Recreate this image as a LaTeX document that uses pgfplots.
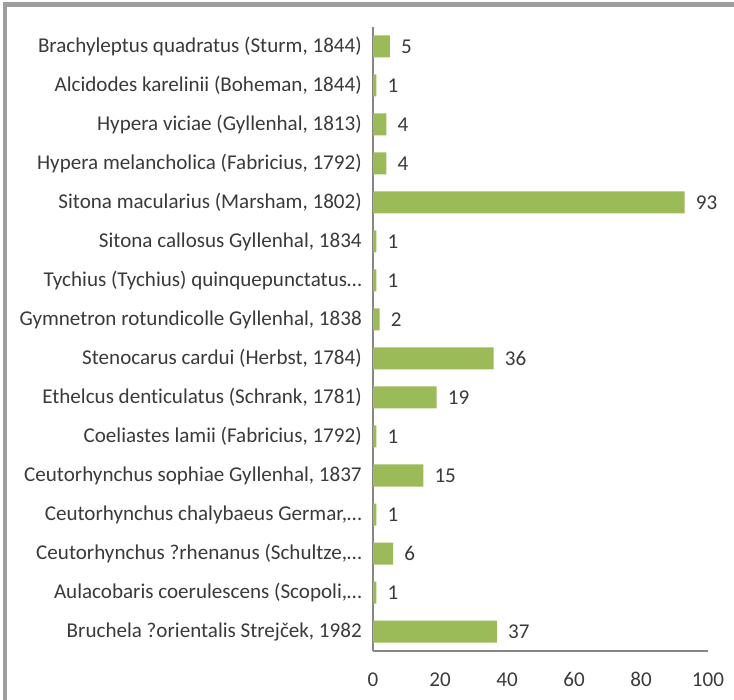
\documentclass[border=0pt]{standalone}
\usepackage{pgfplots}
\pgfplotsset{compat=1.18}
\usepackage{fontspec}
\setmainfont[Ligatures=NoCommon]{Carlito}
\definecolor{bargreen}{HTML}{9BBB59}
\definecolor{txt}{HTML}{3A3A3A}
\definecolor{axgray}{HTML}{868686}
\begin{document}
\begin{tikzpicture}
\useasboundingbox (0pt,0pt) rectangle (550.5pt,524.25pt);
\begin{scope}
\clip (0pt,0pt) rectangle (550.5pt,524.25pt);
\draw[color=black!38, line width=3.5pt] (3.75pt,-10pt) -- (3.75pt,520.875pt) -- (570pt,520.875pt);
\end{scope}
\begin{axis}[
  at={(279.75pt,36pt)}, anchor=south west,
  scale only axis, width=251.25pt, height=468pt,
  xbar, bar width=16.5pt,
  xmin=0, xmax=100, ymin=-0.5, ymax=15.5,
  xtick={0,20,40,60,80,100},
  ytick={0,...,15},
  yticklabels={
    {Bruchela ?orientalis Strejček, 1982},
    {Aulacobaris coerulescens (Scopoli,…},
    {Ceutorhynchus ?rhenanus (Schultze,…},
    {Ceutorhynchus chalybaeus Germar,…},
    {Ceutorhynchus sophiae Gyllenhal, 1837},
    {Coeliastes lamii (Fabricius, 1792)},
    {Ethelcus denticulatus (Schrank, 1781)},
    {Stenocarus cardui (Herbst, 1784)},
    {Gymnetron rotundicolle Gyllenhal, 1838},
    {Tychius (Tychius) quinquepunctatus…},
    {Sitona callosus Gyllenhal, 1834},
    {Sitona macularius (Marsham, 1802)},
    {Hypera melancholica (Fabricius, 1792)},
    {Hypera viciae (Gyllenhal, 1813)},
    {Alcidodes karelinii (Boheman, 1844)},
    {Brachyleptus quadratus (Sturm, 1844)}},
  axis x line=bottom, axis y line=left,
  axis line style={-, color=axgray, line width=0.9pt},
  major tick length=0pt,
  /pgf/number format/assume math mode=true,
  tick label style={font=\fontsize{15.8}{18}\selectfont, text=txt},
  yticklabel style={inner sep=0pt, xshift=-8.25pt},
  xticklabel style={inner sep=0pt, yshift=-16pt},
  nodes near coords,
  nodes near coords style={font=\fontsize{15.8}{18}\selectfont, text=txt, anchor=west, inner sep=0pt, xshift=8.25pt},
]
\addplot[fill=bargreen, draw=none] coordinates {
(37,0) (1,1) (6,2) (1,3) (15,4) (1,5) (19,6) (36,7) (2,8) (1,9) (1,10) (93,11) (4,12) (4,13) (1,14) (5,15)};
\end{axis}
\end{tikzpicture}
\end{document}
